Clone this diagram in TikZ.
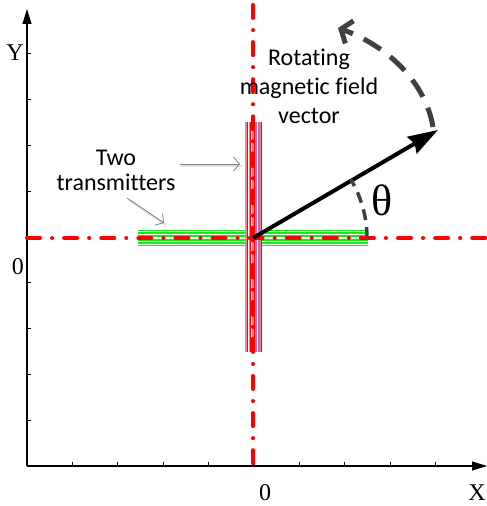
\documentclass[tikz,border=0pt]{standalone}
\usepackage{fontspec}
\setmainfont{Liberation Serif}
\newfontfamily\calibri[Ligatures=NoCommon]{Carlito}
\usetikzlibrary{arrows.meta,positioning}
\definecolor{fieldred}{RGB}{255,0,0}
\definecolor{coilpink}{RGB}{242,130,140}
\definecolor{coilviolet}{RGB}{190,110,170}
\definecolor{coilgreen}{RGB}{20,235,20}
\definecolor{arcgray}{RGB}{64,64,64}
\begin{document}
\begin{tikzpicture}[x=1pt,y=1pt,>=Stealth,
  axisline/.style={line width=1.2pt,black},
  dashdot/.style={line width=4pt,fieldred,line cap=round,
    dash pattern=on 13pt off 12pt on 0.1pt off 12pt},
  callout/.style={gray,line width=0.8pt,-{Straight Barb[length=6pt,width=14pt]}},
  calloutshadow/.style={gray!25,line width=2pt},
  sanstext/.style={font=\calibri\fontsize{24}{29}\selectfont,align=center},
  axistext/.style={font=\fontsize{24}{24}\selectfont}]
  \useasboundingbox (0,0) rectangle (487,506);
  %% Axes
  \coordinate (C) at (27,40);
  \coordinate (Ytop) at (27,497);
  \coordinate (Xend) at (487,40);
  \draw[axisline,-{Triangle[length=15pt,width=9pt]}] (C) -- (Ytop);
  \draw[axisline,-{Triangle[length=15pt,width=9pt]}] (C) -- (Xend);
  \foreach \k in {1,...,9} {
    \draw[line width=0.7pt] (27,40+45.8*\k) -- ++(4,0);
    \draw[line width=0.7pt] (27+45.4*\k,40) -- ++(0,4);
  }
  \node[axistext] (ylab) at (15,453) {Y};
  \node[axistext] (yzero) at (18,239) {0};
  \node[axistext] (xzero) at (265,13) {0};
  \node[axistext] (xlab) at (477,13) {X};
  %% Two transmitters
  \fill[white] (138,260) rectangle (368,276);
  \foreach \y in {260.5,263,266,270,273,275.5}
    \draw[coilgreen,line width=1.2pt] (138,\y) -- (368,\y);
  \fill[coilpink] (245,154) rectangle (262,384);
  \fill[coilviolet] (255.5,154) rectangle (259.5,384);
  \foreach \x in {248.5,251.5,257.5}
    \draw[white,line width=0.6pt] (\x,154) -- (\x,384);
  \foreach \x in {247,250,254,261}
    \draw[fieldred,line width=0.6pt] (\x,154) -- (\x,384);
  %% Red dash-dot centre lines
  \coordinate (O) at (253,268);
  \draw[dashdot] (27,268) -- (487,268);
  \draw[dashdot] (253,501) -- (253,40);
  %% Rotating vector and angle
  \coordinate (tip) at (438,376);
  \draw[line width=4pt,-{Stealth[length=30pt,width=19pt,inset=3pt]}] (O) -- (tip);
  \draw[arcgray,line width=3.5pt,dash pattern=on 11pt off 7pt]
    (367,268) arc[start angle=0,end angle=31,radius=114];
  \node[font=\fontsize{44}{44}\selectfont] (theta) at (382,306) {θ};
  \coordinate (arcstart) at (433,379);
  \coordinate (arcend) at (338,478);
  \draw[arcgray,line width=5pt,dash pattern=on 20pt off 12pt,
        -{Straight Barb[length=9pt,width=24pt]}]
    (arcstart) .. controls (425,426) and (385,461) .. (arcend);
  %% Texts and pointers
  \node[sanstext] (fieldtext) at (309,420) {Rotating\\magnetic field\\vector};
  \node[sanstext,font=\calibri\fontsize{24}{25}\selectfont] (coiltext) at (116,336) {Two\\transmitters};
  \coordinate (p1s) at (180,342);
  \coordinate (p1e) at (240,342);
  \coordinate (p2s) at (127,308);
  \coordinate (p2e) at (164,283);
  \draw[calloutshadow] ([shift={(2,-2)}]p1s) -- ([shift={(2,-2)}]p1e);
  \draw[calloutshadow] ([shift={(2,-2)}]p2s) -- ([shift={(2,-2)}]p2e);
  \draw[callout] (p1s) -- (p1e);
  \draw[callout] (p2s) -- (p2e);
\end{tikzpicture}
\end{document}
